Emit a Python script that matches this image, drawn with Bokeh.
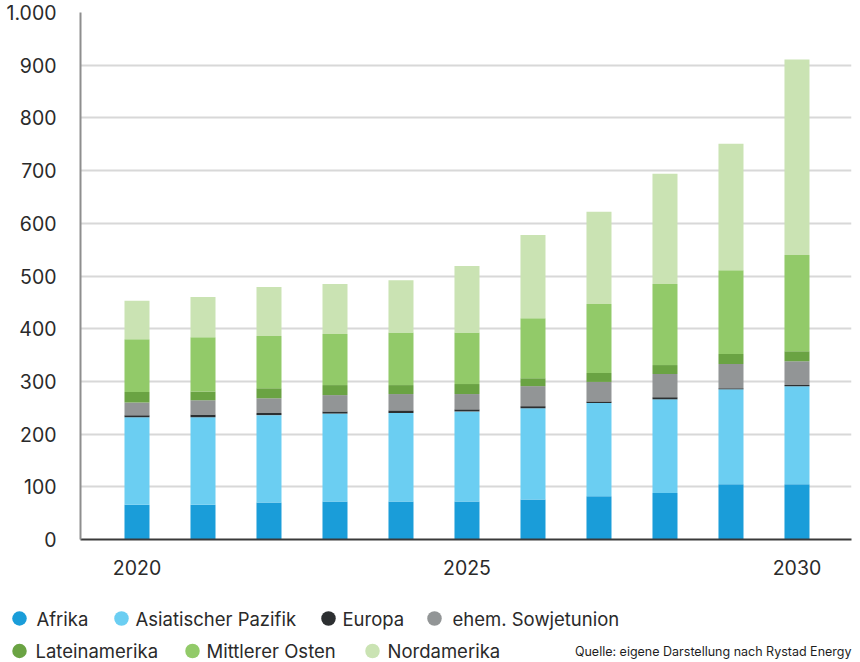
from bokeh.plotting import figure
from bokeh.models import Range1d, FixedTicker, ColumnDataSource
from bokeh.layouts import column, row
from bokeh.embed import file_html
from bokeh.resources import INLINE
from bokeh.core.properties import value

# Jahre und Werte je Region (gestapelt)
years = [2020, 2021, 2022, 2023, 2024, 2025, 2026, 2027, 2028, 2029, 2030]
regions = ["Afrika", "Asiatischer Pazifik", "Europa", "ehem. Sowjetunion",
           "Lateinamerika", "Mittlerer Osten", "Nordamerika"]
afrika = [66, 66, 70, 72, 72, 72, 76, 82, 88, 105, 105]
asien_pazifik = [166, 166, 166, 167, 168, 171, 173, 177, 178, 180, 186]
europa = [4, 5, 4, 4, 5, 4, 4, 3, 4, 2, 2]
sowjetunion = [24, 27, 28, 31, 31, 29, 38, 37, 44, 46, 45]
lateinamerika = [20, 17, 19, 19, 17, 19, 15, 17, 17, 19, 19]
mittlerer_osten = [100, 103, 99, 97, 100, 98, 114, 131, 154, 159, 183]
nordamerika = [73, 76, 93, 95, 99, 126, 158, 175, 209, 240, 371]

y_ticks = [0, 100, 200, 300, 400, 500, 600, 700, 800, 900, 1000]
x_ticks = [2020, 2025, 2030]

colors = ["#1a9dd9", "#6bcef2", "#2c2f31", "#929596",
          "#6aa343", "#92ca69", "#cae3b3"]

FONT = "Inter"
TEXT_COLOR = "#2a2a2a"

keys = ["afrika", "asien", "europa", "sowjet", "latein", "nahost", "nordam"]
source = ColumnDataSource(dict(
    year=years, afrika=afrika, asien=asien_pazifik, europa=europa,
    sowjet=sowjetunion, latein=lateinamerika, nahost=mittlerer_osten,
    nordam=nordamerika,
))

p = figure(width=860, height=590, output_backend="svg", toolbar_location=None,
           x_range=Range1d(2019.144, 2030.826), y_range=Range1d(0, 1000),
           min_border_left=80, min_border_right=9, min_border_top=12,
           min_border_bottom=51)
p.outline_line_color = None
p.background_fill_color = "white"
p.border_fill_color = "white"

p.vbar_stack(keys, x="year", width=0.379, source=source, color=colors,
             line_color=None)

p.xgrid.visible = False
p.ygrid.ticker = FixedTicker(ticks=y_ticks)
p.ygrid.grid_line_color = "#d8d8d8"
p.ygrid.grid_line_width = 2

p.yaxis.ticker = FixedTicker(ticks=y_ticks)
p.yaxis.major_label_overrides = {1000: "1.000"}
p.yaxis.axis_line_color = "#8e8e8e"
p.yaxis.axis_line_width = 2
p.yaxis.major_label_standoff = 18

p.xaxis.ticker = FixedTicker(ticks=x_ticks)
p.xaxis.axis_line_color = "#3a3a3a"
p.xaxis.axis_line_width = 2
p.xaxis.major_label_standoff = 14

for ax in (p.xaxis[0], p.yaxis[0]):
    ax.major_tick_line_color = None
    ax.minor_tick_line_color = None
    ax.major_label_text_font = FONT
    ax.major_label_text_font_size = "19.5px"
    ax.major_label_text_color = TEXT_COLOR

# Legende als eigene Zeichenfläche unter dem Diagramm (Pixelkoordinaten)
leg = figure(width=860, height=72, output_backend="svg", toolbar_location=None,
             x_range=Range1d(0, 860), y_range=Range1d(72, 0),
             min_border=0, min_border_left=0, min_border_right=0,
             min_border_top=0, min_border_bottom=0,
             x_axis_location=None, y_axis_location=None)
leg.outline_line_color = None
leg.xgrid.visible = False
leg.ygrid.visible = False

dot_x = [19, 121, 328, 434, 19, 192, 372]
text_x = [36, 135, 342, 452, 35, 206, 387]
row_y = [28, 28, 28, 28, 60.5, 60.5, 60.5]
leg_src = ColumnDataSource(dict(
    x=dot_x, y=row_y, tx=text_x, label=regions, color=colors,
))
leg.scatter(x="x", y="y", source=leg_src, size=14.5, color="color",
            line_color=None)
leg.text(x="tx", y="y", text="label", source=leg_src,
         text_font=value(FONT), text_font_size="18.5px",
         text_color=TEXT_COLOR, text_baseline="middle", text_align="left")

leg.text(x=[851], y=[60.5], text=["Quelle: eigene Darstellung nach Rystad Energy"],
         text_font=value(FONT), text_font_size="12.5px",
         text_color="#1e1e1e", text_baseline="middle", text_align="right")

layout = column(p, row(leg, spacing=0), spacing=0)
open("out.html", "w").write(file_html(layout, INLINE))
